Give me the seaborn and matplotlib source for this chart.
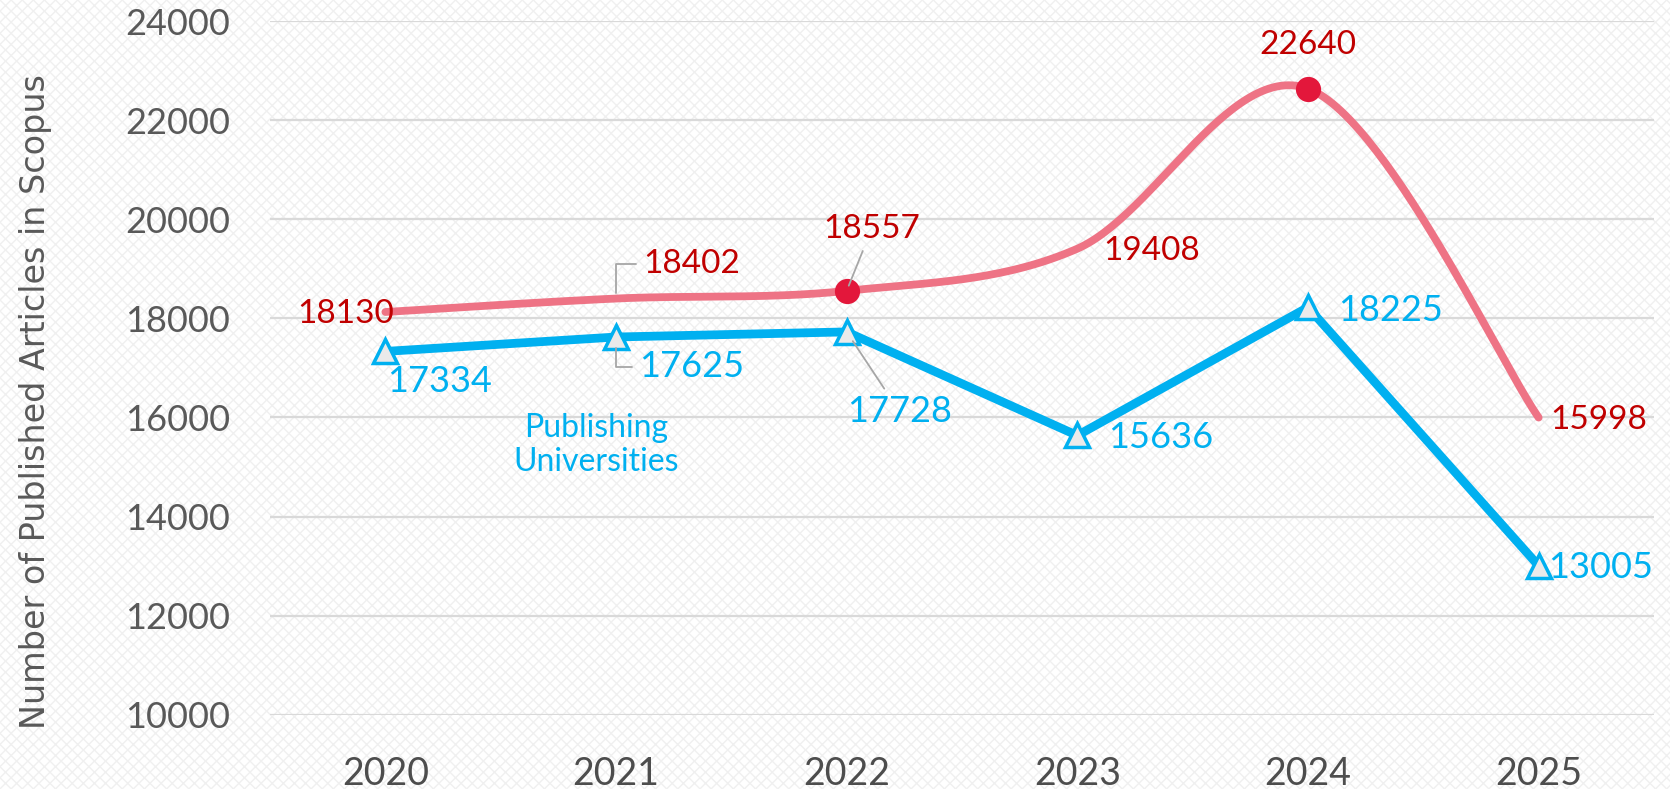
import numpy as np
import pandas as pd
import matplotlib
matplotlib.use("Agg")
import matplotlib.pyplot as plt
from matplotlib.patches import Rectangle
import seaborn as sns

# ---- data ----
years = ["2020", "2021", "2022", "2023", "2024", "2025"]
articles = [18130, 18402, 18557, 19408, 22640, 15998]
universities = [17334, 17625, 17728, 15636, 18225, 13005]
highlight_years = ["2022", "2024"]
y_ticks = [10000, 12000, 14000, 16000, 18000, 20000, 22000, 24000]
y_label = "Number of Published Articles in Scopus"
series_note = "Publishing\nUniversities"

sns.set_theme(style="white")
plt.rcParams["font.family"] = ["Lato", "DejaVu Sans"]

RED_LINE = "#EE7385"
RED_MARK = "#E3173B"
RED_TEXT = "#C00000"
BLUE = "#00B0F0"
GRAY_TXT = "#595959"

fig = plt.figure(figsize=(16.7, 7.89), dpi=100)
fig.patch.set_facecolor("white")
bg = Rectangle((0, 0), 1, 1, transform=fig.transFigure, facecolor="white",
               edgecolor="#F0F0F0", hatch="xxx", linewidth=0, zorder=-10)
fig.patches.append(bg)

ax = fig.add_axes([0.1617, 0.0943, 0.8287, 0.8787])
ax.set_facecolor("none")

x = np.arange(len(years))
df = pd.DataFrame({"x": x, "year": years, "articles": articles, "universities": universities})

# Excel-style smoothed curve (Bezier through the data points)
def smooth_curve(xs, ys, n=60):
    xs = np.asarray(xs, float); ys = np.asarray(ys, float)
    px, py = [], []
    m = len(xs)
    for i in range(m - 1):
        i0 = max(i - 1, 0); i3 = min(i + 2, m - 1)
        p0 = np.array([xs[i], ys[i]]); p1 = np.array([xs[i + 1], ys[i + 1]])
        c1 = p0 + (np.array([xs[i + 1], ys[i + 1]]) - np.array([xs[i0], ys[i0]])) / 6
        c2 = p1 - (np.array([xs[i3], ys[i3]]) - np.array([xs[i], ys[i]])) / 6
        t = np.linspace(0, 1, n)[:, None]
        b = (1 - t) ** 3 * p0 + 3 * (1 - t) ** 2 * t * c1 + 3 * (1 - t) * t ** 2 * c2 + t ** 3 * p1
        if i > 0:
            b = b[1:]
        px.extend(b[:, 0]); py.extend(b[:, 1])
    return np.array(px), np.array(py)

sx, sy = smooth_curve(df["x"], df["articles"])
sns.lineplot(x=sx, y=sy, ax=ax, color=RED_LINE, linewidth=5.6, sort=False,
             solid_capstyle="round", zorder=3)
hl = df[df["year"].isin(highlight_years)]
sns.scatterplot(data=hl, x="x", y="articles", ax=ax, color=RED_MARK, s=330,
                edgecolor=RED_MARK, linewidth=0, zorder=5)

sns.lineplot(data=df, x="x", y="universities", ax=ax, color=BLUE, linewidth=6.3,
             marker="^", markersize=17, markerfacecolor="#EAEAEA",
             markeredgecolor=BLUE, markeredgewidth=2.5, zorder=4)

ax.set_xlim(-0.5, len(years) - 0.5)
ax.set_ylim(y_ticks[0], y_ticks[-1])
ax.set_yticks(y_ticks)
ax.set_yticklabels([str(v) for v in y_ticks])
ax.set_xticks(x)
ax.set_xticklabels(years)
ax.tick_params(axis="y", length=0, pad=29, labelsize=26, labelcolor=GRAY_TXT)
ax.tick_params(axis="x", length=0, pad=30, labelsize=27, labelcolor="#4D4D4D")
ax.set_xlabel(""); ax.set_ylabel("")
ax.grid(axis="y", color="#D9D9D9", linewidth=1.6)
ax.grid(axis="x", visible=False)
for s in ax.spines.values():
    s.set_visible(False)

fig.text(36 / 1670, 0.4905, y_label, rotation=90, ha="center", va="center",
         fontsize=24, color=GRAY_TXT, family=["DejaVu Sans"])

PX = 0.72  # pixels -> points
red_off = [(-40, 2), (76, -35), (25, -62), (74, 2), (0, -44), (60, 2)]
blue_off = [(54, 30), (76, 30), (53, 80), (83, 2), (82, 3), (62, 2)]
red_leader = {1: "angle,angleA=0,angleB=90", 2: "arc3"}
blue_leader = {1: "angle,angleA=0,angleB=90", 2: "arc3"}

for i, v in enumerate(articles):
    dx, dy = red_off[i]
    kw = {}
    if i in red_leader:
        kw["arrowprops"] = dict(arrowstyle="-", color="#A6A6A6", lw=1.3,
                                connectionstyle=red_leader[i], shrinkA=3, shrinkB=4)
    ax.annotate(str(v), xy=(i, v), xytext=(dx * PX, -dy * PX), textcoords="offset points",
                ha="center", va="center", fontsize=24, color=RED_TEXT, zorder=6, **kw)

for i, v in enumerate(universities):
    dx, dy = blue_off[i]
    kw = {}
    if i in blue_leader:
        kw["arrowprops"] = dict(arrowstyle="-", color="#A6A6A6", lw=1.3,
                                connectionstyle=blue_leader[i], shrinkA=3, shrinkB=8)
    ax.annotate(str(v), xy=(i, v), xytext=(dx * PX, -dy * PX), textcoords="offset points",
                ha="center", va="center", fontsize=26, color=BLUE, zorder=6, **kw)

ax.text(596 / 1670, 1 - 445 / 789, series_note, transform=fig.transFigure,
        ha="center", va="center", fontsize=23, color=BLUE, linespacing=1.2)

fig.savefig("out.png", dpi=100, facecolor=fig.get_facecolor())
